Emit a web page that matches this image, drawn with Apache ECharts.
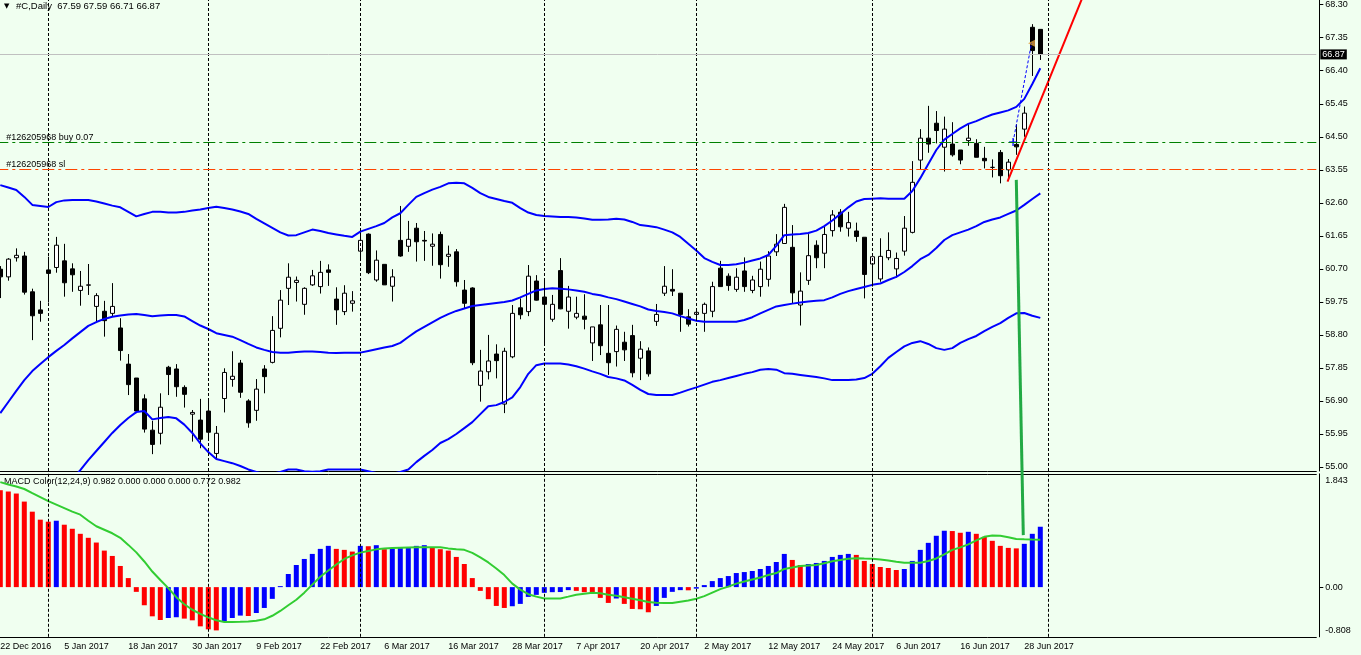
<!DOCTYPE html>
<html><head><meta charset="utf-8">
<script src="https://cdn.jsdelivr.net/npm/echarts@6/dist/echarts.min.js"></script>
<style>html,body{margin:0;padding:0;background:#F0FFF0;}#c{width:1361px;height:655px;}</style>
</head><body><div id="c"></div>
<script>
// ---- trading days (Dec 2016 .. Jun 2017) ----
const decDays=[22,23,27,28,29,30];
const janDays=[3,4,5,6,9,10,11,12,13,17,18,19,20,23,24,25,26,27,30,31];
const febDays=[1,2,3,6,7,8,9,10,13,14,15,16,17,21,22,23,24,27,28];
const marDays=[1,2,3,6,7,8,9,10,13,14,15,16,17,20,21,22,23,24,27,28,29,30,31];
const aprDays=[3,4,5,6,7,10,11,12,13,17,18,19,20,21,24,25,26,27,28];
const mayDays=[1,2,3,4,5,8,9,10,11,12,15,16,17,18,19,22,23,24,25,26,30,31];
const junDays=[1,2,5,6,7,8,9,12,13,14,15,16,19,20,21,22,23,26,27,28,29,30];
const monthList=[['Dec',2016,decDays],['Jan',2017,janDays],['Feb',2017,febDays],['Mar',2017,marDays],['Apr',2017,aprDays],['May',2017,mayDays],['Jun',2017,junDays]];
const futureSlots=34;

// ---- OHLC ----
const opens=[60.69,60.47,61.02,61.07,60.04,59.52,60.67,60.74,60.93,60.70,60.08,60.23,59.62,59.48,59.42,59.00,57.96,57.56,56.96,56.06,55.97,57.87,57.82,57.29,56.52,56.35,56.61,55.39,56.97,57.52,57.99,56.90,56.63,57.82,58.01,58.99,60.14,60.31,59.68,60.24,60.19,60.67,59.83,59.47,59.71,61.21,61.70,60.38,60.83,60.20,61.52,61.35,61.87,61.52,61.35,61.69,61.06,61.19,60.09,60.15,57.35,57.74,58.25,56.81,58.17,59.58,59.47,60.35,59.89,59.25,60.65,59.48,59.31,59.34,58.57,59.09,58.27,58.32,58.59,58.78,58.13,58.34,59.19,60.00,60.11,60.00,59.32,59.39,59.42,59.48,60.72,60.49,60.11,60.64,60.08,60.19,60.40,61.19,61.43,61.32,59.66,60.37,61.38,61.15,61.80,62.33,61.87,61.79,61.61,60.84,60.41,61.02,60.70,61.21,61.75,63.83,64.46,64.89,64.20,64.29,64.12,64.39,64.31,63.88,63.62,64.05,63.55,64.28,64.72,67.65,67.59];
const highs=[60.78,61.01,61.29,61.19,60.13,59.78,61.05,61.62,61.42,60.86,60.64,60.84,60.00,59.78,60.29,59.28,58.25,57.56,57.09,56.33,57.12,57.91,57.96,57.35,56.64,56.96,56.95,56.18,57.84,58.33,58.08,56.95,57.53,57.93,59.34,60.09,60.86,60.48,60.17,60.67,60.93,60.83,60.17,60.23,60.06,61.77,61.72,61.23,60.83,60.69,62.51,62.08,62.02,61.79,61.72,61.77,61.37,61.27,60.38,60.17,58.37,58.80,58.53,58.43,59.66,59.85,60.81,60.52,60.38,59.95,61.01,60.21,59.90,59.97,59.03,59.66,59.66,59.07,58.89,59.09,58.62,58.44,59.69,60.78,60.69,60.00,59.54,59.57,59.73,60.33,60.93,60.57,60.72,61.03,60.50,60.91,61.21,61.70,62.57,61.96,60.60,61.70,61.52,61.96,62.39,62.42,62.34,62.03,61.61,61.05,61.58,61.75,61.17,62.22,63.80,64.72,65.39,65.24,65.08,64.92,64.12,64.89,64.43,64.21,63.85,64.12,63.86,64.86,65.37,67.74,67.59];
const lows=[59.86,60.36,60.91,59.96,58.65,59.18,59.73,60.59,59.90,60.04,59.64,59.95,59.20,58.75,59.32,58.06,57.07,56.55,55.99,55.37,55.65,57.07,57.02,56.71,55.73,55.54,55.80,55.22,56.57,57.31,56.99,56.13,56.33,57.12,57.98,58.73,59.66,59.76,59.38,60.21,59.99,60.21,59.09,59.37,59.47,60.96,60.55,60.33,60.24,59.76,61.05,61.19,60.91,60.93,60.79,60.42,60.76,60.19,59.57,57.93,56.88,57.52,57.55,56.55,58.13,59.25,59.34,59.79,58.56,59.18,59.54,58.98,59.25,58.96,58.05,58.22,57.65,57.89,58.05,57.58,57.50,57.60,59.06,59.92,59.92,58.89,59.04,59.23,58.89,59.31,60.19,60.07,60.04,60.04,60.00,59.90,60.19,61.07,61.42,59.71,59.07,60.24,60.72,60.72,61.63,61.77,61.63,61.48,59.85,60.19,60.33,60.95,60.45,61.08,61.72,63.56,64.04,64.31,63.50,63.93,63.71,64.24,63.91,63.59,63.33,63.16,63.23,63.98,64.50,66.25,66.71];
const closes=[60.47,60.98,61.09,60.03,59.35,59.42,60.57,61.38,60.30,60.53,60.20,60.24,59.93,59.21,59.62,58.35,57.37,56.61,56.09,55.65,56.72,57.66,57.31,57.09,56.57,55.80,56.00,55.97,57.72,57.61,57.15,56.27,57.24,57.60,58.93,59.80,60.46,60.37,60.14,60.50,60.60,60.60,59.52,60.00,59.78,61.52,60.59,60.95,60.24,60.47,61.07,61.55,61.48,61.50,61.41,60.82,61.12,60.33,59.71,58.00,57.76,58.05,58.06,58.33,59.42,59.38,60.49,59.80,59.68,59.68,59.55,59.89,59.42,59.25,59.03,58.49,58.00,58.96,58.37,57.71,58.39,57.68,59.39,60.20,60.06,59.39,59.11,59.45,59.68,60.19,60.19,60.22,60.46,60.19,60.38,60.69,61.07,61.41,62.47,60.01,60.06,61.08,61.02,61.69,62.25,61.91,62.03,61.63,60.54,61.05,61.06,61.23,61.00,61.87,63.19,64.46,64.29,64.68,64.72,63.98,63.83,64.46,63.91,63.81,63.62,63.38,63.77,64.21,65.18,66.98,66.87];

// ---- Bollinger bands ----
const bbUpper=[63.11,63.04,62.97,62.77,62.54,62.51,62.48,62.62,62.67,62.68,62.68,62.68,62.64,62.58,62.52,62.47,62.34,62.21,62.28,62.34,62.34,62.32,62.32,62.34,62.38,62.41,62.45,62.49,62.45,62.41,62.35,62.28,62.14,62.01,61.88,61.75,61.66,61.67,61.75,61.83,61.79,61.73,61.69,61.65,61.62,61.77,61.85,61.93,62.02,62.18,62.30,62.54,62.77,62.88,62.98,63.06,63.16,63.18,63.16,63.03,62.88,62.77,62.71,62.65,62.60,62.45,62.32,62.25,62.22,62.21,62.19,62.19,62.18,62.15,62.11,62.11,62.12,62.14,62.12,62.05,61.96,61.93,61.90,61.83,61.75,61.62,61.42,61.23,61.01,60.90,60.81,60.81,60.83,60.88,60.94,61.00,61.10,61.36,61.67,61.69,61.70,61.73,61.80,61.93,62.09,62.28,62.47,62.64,62.71,62.72,62.73,62.72,62.72,62.72,62.94,63.31,63.72,64.12,64.42,64.58,64.74,64.87,64.95,65.05,65.14,65.20,65.26,65.36,65.59,66.02,66.47];
const bbMiddle=[56.55,56.87,57.19,57.50,57.76,57.96,58.16,58.34,58.51,58.70,58.88,59.06,59.17,59.26,59.32,59.36,59.39,59.40,59.37,59.34,59.36,59.37,59.37,59.33,59.20,59.07,58.97,58.85,58.80,58.75,58.65,58.54,58.44,58.37,58.31,58.29,58.29,58.31,58.32,58.32,58.31,58.29,58.28,58.29,58.29,58.29,58.34,58.39,58.44,58.48,58.57,58.74,58.90,59.03,59.16,59.29,59.40,59.49,59.56,59.63,59.66,59.69,59.72,59.75,59.79,59.88,59.98,60.08,60.12,60.14,60.13,60.11,60.08,60.04,59.98,59.94,59.88,59.83,59.76,59.69,59.62,59.53,59.49,59.46,59.42,59.34,59.27,59.21,59.18,59.18,59.18,59.18,59.18,59.23,59.31,59.42,59.52,59.62,59.66,59.70,59.73,59.76,59.78,59.80,59.88,59.98,60.06,60.12,60.18,60.24,60.28,60.38,60.47,60.61,60.78,60.98,61.10,61.30,61.53,61.67,61.75,61.83,61.93,62.05,62.12,62.18,62.28,62.38,62.54,62.71,62.87];
const bbLower=[null,null,null,null,null,null,null,null,54.37,54.65,54.91,55.20,55.46,55.72,55.98,56.21,56.41,56.58,56.61,56.37,56.41,56.44,56.40,56.22,55.98,55.68,55.43,55.23,55.17,55.11,55.03,54.93,54.86,54.80,54.80,54.86,54.93,54.93,54.88,54.86,54.88,54.93,54.93,54.93,54.93,54.93,54.88,54.83,54.80,54.80,54.86,54.93,55.14,55.32,55.49,55.69,55.80,55.95,56.12,56.29,56.52,56.75,56.78,56.87,57.00,57.30,57.68,57.93,57.98,57.98,57.98,57.95,57.90,57.83,57.75,57.68,57.59,57.55,57.49,57.36,57.22,57.10,57.07,57.07,57.07,57.14,57.22,57.29,57.37,57.45,57.50,57.56,57.62,57.68,57.73,57.80,57.82,57.80,57.70,57.68,57.65,57.62,57.59,57.55,57.50,57.50,57.50,57.52,57.56,57.68,57.90,58.14,58.31,58.47,58.57,58.62,58.54,58.42,58.37,58.42,58.57,58.68,58.77,58.91,59.03,59.14,59.29,59.42,59.43,59.35,59.29];

// ---- MACD Color(12,24,9) ----
const macdHist=[1.576,1.555,1.522,1.391,1.227,1.097,1.064,1.080,1.015,0.949,0.867,0.802,0.725,0.594,0.507,0.344,0.147,-0.077,-0.295,-0.475,-0.535,-0.502,-0.490,-0.512,-0.540,-0.638,-0.687,-0.704,-0.556,-0.502,-0.463,-0.470,-0.421,-0.339,-0.191,0.016,0.213,0.360,0.458,0.540,0.622,0.671,0.622,0.606,0.578,0.671,0.665,0.682,0.617,0.630,0.635,0.640,0.671,0.682,0.650,0.617,0.594,0.491,0.376,0.147,-0.061,-0.196,-0.306,-0.339,-0.311,-0.273,-0.159,-0.126,-0.093,-0.082,-0.080,-0.049,-0.061,-0.082,-0.093,-0.175,-0.257,-0.185,-0.273,-0.355,-0.360,-0.409,-0.306,-0.175,-0.077,-0.049,-0.052,-0.025,0.033,0.098,0.147,0.180,0.229,0.245,0.262,0.295,0.344,0.409,0.540,0.442,0.360,0.376,0.393,0.426,0.491,0.524,0.540,0.524,0.426,0.376,0.327,0.311,0.278,0.295,0.426,0.606,0.720,0.835,0.917,0.912,0.884,0.900,0.867,0.818,0.753,0.671,0.638,0.630,0.704,0.867,0.982];
const macdSignal=[1.707,1.669,1.637,1.596,1.530,1.465,1.399,1.342,1.285,1.227,1.178,1.080,0.990,0.933,0.876,0.802,0.687,0.565,0.417,0.254,0.115,-0.016,-0.164,-0.278,-0.368,-0.434,-0.491,-0.540,-0.568,-0.568,-0.565,-0.560,-0.548,-0.524,-0.466,-0.388,-0.295,-0.205,-0.090,0.041,0.169,0.270,0.368,0.458,0.516,0.561,0.589,0.614,0.630,0.638,0.642,0.646,0.650,0.650,0.650,0.650,0.630,0.614,0.606,0.556,0.483,0.401,0.303,0.196,0.057,-0.041,-0.115,-0.155,-0.185,-0.185,-0.185,-0.155,-0.123,-0.106,-0.090,-0.098,-0.123,-0.139,-0.164,-0.188,-0.213,-0.242,-0.254,-0.257,-0.257,-0.237,-0.218,-0.188,-0.147,-0.090,-0.033,0.008,0.057,0.090,0.123,0.155,0.196,0.229,0.295,0.319,0.344,0.352,0.360,0.388,0.421,0.442,0.462,0.470,0.466,0.463,0.450,0.434,0.414,0.398,0.398,0.398,0.426,0.466,0.532,0.606,0.646,0.696,0.761,0.818,0.838,0.835,0.810,0.781,0.777,0.774,0.772];

// ---- axis tick labels ----
const priceTicks=['55.00','55.95','56.90','57.85','58.80','59.75','60.70','61.65','62.60','63.55','64.50','65.45','66.40','67.35','68.30'];
const macdTicks=['1.843','0.00','-0.808'];

// ---- objects on chart ----
const bidPrice=66.87;
const buyLevel=64.35, buyText='#126205968 buy 0.07';
const slLevel=63.58, slText='#126205968 sl';
const trendLine=[[125.9,63.21],[136,68.92]];
const greenStroke=[[127.0,63.26],[127.875,53.04]];
const tradePath=[[126.6,64.35],[128.9,67.19]];
const titleText='#C,Daily  67.59 67.59 66.71 66.87';
const macdText='MACD Color(12,24,9) 0.982 0.000 0.000 0.000 0.772 0.982';

// build categories
const cats=[]; const monthStart=[];
monthList.forEach(([m,y,days],k)=>{ if(k>0) monthStart.push(cats.length); days.forEach(d=>cats.push(d+' '+m+' '+y)); });
const nReal=cats.length; monthStart.push(nReal);
for(let i=0;i<futureSlots;i++) cats.push('f'+i);
const NC=cats.length;

const candles=opens.map((o,i)=>[o,closes[i],lows[i],highs[i]]);
const histData=macdHist.map((v,i)=>({value:v,itemStyle:{color:(i>0&&v>macdHist[i-1])?'#0000FF':'#FF0000'}}));

const FONT='Liberation Sans';
const sepStyle={type:[3,2],color:'#000',width:1};
const BW=8, GL=-3.7, GW=BW*NC;

const chart=echarts.init(document.getElementById('c'),null,{renderer:'canvas'});
chart.setOption({
  animation:false,
  backgroundColor:'#F0FFF0',
  textStyle:{fontFamily:FONT},
  graphic:[
    {type:'text',left:4,top:3,style:{text:'\u25BC',fontSize:7,fill:'#000',fontFamily:'DejaVu Sans'}},
    {type:'text',left:16,top:1,style:{text:titleText,fontSize:9.5,fill:'#000',fontFamily:FONT}},
    {type:'text',left:4,top:477,style:{text:macdText,fontSize:9,fill:'#000',fontFamily:FONT}}
  ],
  grid:[
    {left:GL,top:0,width:GW,height:471,outerBoundsMode:'none',containLabel:false},
    {left:GL,top:473.8,width:GW,height:163,outerBoundsMode:'none',containLabel:false}
  ],
  xAxis:[
    {type:'category',gridIndex:0,data:cats,boundaryGap:true,axisLine:{show:true,onZero:false,lineStyle:{color:'#000'}},axisTick:{show:false},axisLabel:{show:false},splitLine:{show:false}},
    {type:'category',gridIndex:1,data:cats,boundaryGap:true,axisLine:{show:true,onZero:false,lineStyle:{color:'#000'}},axisTick:{show:false},
      axisLabel:{show:true,interval:7,align:'left',margin:5,color:'#000',fontSize:9,fontFamily:FONT,formatter:(v,i)=>i<nReal?v:''},splitLine:{show:false}},
    {type:'category',gridIndex:1,position:'top',data:cats,axisLine:{show:true,onZero:false,lineStyle:{color:'#000'}},axisTick:{show:false},axisLabel:{show:false}},
    {type:'value',gridIndex:0,min:-0.5,max:NC-0.5,show:false}
  ],
  yAxis:[
    {type:'value',gridIndex:0,position:'right',offset:3,min:54.885,max:68.435,scale:true,
      axisLine:{show:true,onZero:false,lineStyle:{color:'#000'}},
      axisTick:{show:true,length:4,customValues:priceTicks.map(Number),lineStyle:{color:'#000'}},
      axisLabel:{show:true,customValues:priceTicks.map(Number),formatter:v=>v.toFixed(2),color:'#000',fontSize:9,fontFamily:FONT,margin:6},
      splitLine:{show:false}},
    {type:'value',gridIndex:1,position:'right',offset:3,min:-0.808,max:1.843,
      axisLine:{show:true,onZero:false,lineStyle:{color:'#000'}},
      axisTick:{show:true,length:4,customValues:[0],lineStyle:{color:'#000'}},
      axisLabel:{show:true,customValues:macdTicks.map(Number),margin:6,color:'#000',fontSize:9,fontFamily:FONT,
        formatter:v=>{const s=macdTicks.find(t=>Number(t)===v); if(v>0) return '{t|'+s+'}'; if(v<0) return '{b|'+s+'}'; return s;},
        rich:{t:{padding:[13,0,0,0],fontSize:9,color:'#000',fontFamily:FONT},b:{padding:[0,0,12,0],fontSize:9,color:'#000',fontFamily:FONT}}},
      splitLine:{show:false}}
  ],
  series:[
    {type:'candlestick',xAxisIndex:0,yAxisIndex:0,data:candles,barWidth:5,
      itemStyle:{color:'#FFFFFF',color0:'#000000',borderColor:'#000000',borderColor0:'#000000',borderWidth:1},
      markLine:{silent:true,symbol:['none','none'],animation:false,
        data:[
          ...monthStart.map(i=>({xAxis:i,lineStyle:sepStyle,label:{show:false}})),
          {yAxis:bidPrice,lineStyle:{color:'#C0C0C0',type:'solid',width:1},
            label:{show:true,position:'end',distance:4,formatter:bidPrice.toFixed(2),backgroundColor:'#000',color:'#fff',padding:[1,2,0,2],fontSize:9,fontFamily:FONT}},
          {yAxis:buyLevel,lineStyle:{color:'#008000',type:[12,4,3,4],width:1},
            label:{show:true,position:'insideStartTop',formatter:buyText,color:'#000',fontSize:9,fontFamily:FONT,distance:[10,0]}},
          {yAxis:slLevel,lineStyle:{color:'#FF4500',type:[12,4,3,4],width:1},
            label:{show:true,position:'insideStartTop',formatter:slText,color:'#000',fontSize:9,fontFamily:FONT,distance:[10,0]}}
        ]}},
    {type:'line',xAxisIndex:0,yAxisIndex:0,data:bbUpper,symbol:'none',lineStyle:{color:'#0000FF',width:2}},
    {type:'line',xAxisIndex:0,yAxisIndex:0,data:bbMiddle,symbol:'none',lineStyle:{color:'#0000FF',width:2}},
    {type:'line',xAxisIndex:0,yAxisIndex:0,data:bbLower,symbol:'none',lineStyle:{color:'#0000FF',width:2}},
    {type:'line',xAxisIndex:3,yAxisIndex:0,data:trendLine,symbol:'none',lineStyle:{color:'#FF0000',width:2}},
    {type:'line',xAxisIndex:3,yAxisIndex:0,data:tradePath,symbol:'none',lineStyle:{color:'#0000FF',width:1,type:[3,2]}},
    {type:'scatter',xAxisIndex:3,yAxisIndex:0,data:[tradePath[0]],symbol:'path://M4,0L6,0L6,4L10,4L10,6L6,6L6,10L4,10L4,6L0,6L0,4L4,4Z',symbolSize:8,itemStyle:{color:'#0000FF'}},
    {type:'scatter',xAxisIndex:3,yAxisIndex:0,data:[tradePath[1]],symbol:'triangle',symbolRotate:90,symbolSize:7,itemStyle:{color:'#E0A040'}},
    {type:'line',xAxisIndex:3,yAxisIndex:0,data:greenStroke,symbol:'none',clip:false,z:5,lineStyle:{color:'#22AA44',width:3}},
    {type:'bar',xAxisIndex:1,yAxisIndex:1,data:histData,barWidth:5,
      markLine:{silent:true,symbol:['none','none'],data:monthStart.map(i=>({xAxis:i,lineStyle:sepStyle,label:{show:false}}))}},
    {type:'line',xAxisIndex:1,yAxisIndex:1,data:macdSignal,symbol:'none',lineStyle:{color:'#32CD32',width:2}}
  ]
});
</script></body></html>
